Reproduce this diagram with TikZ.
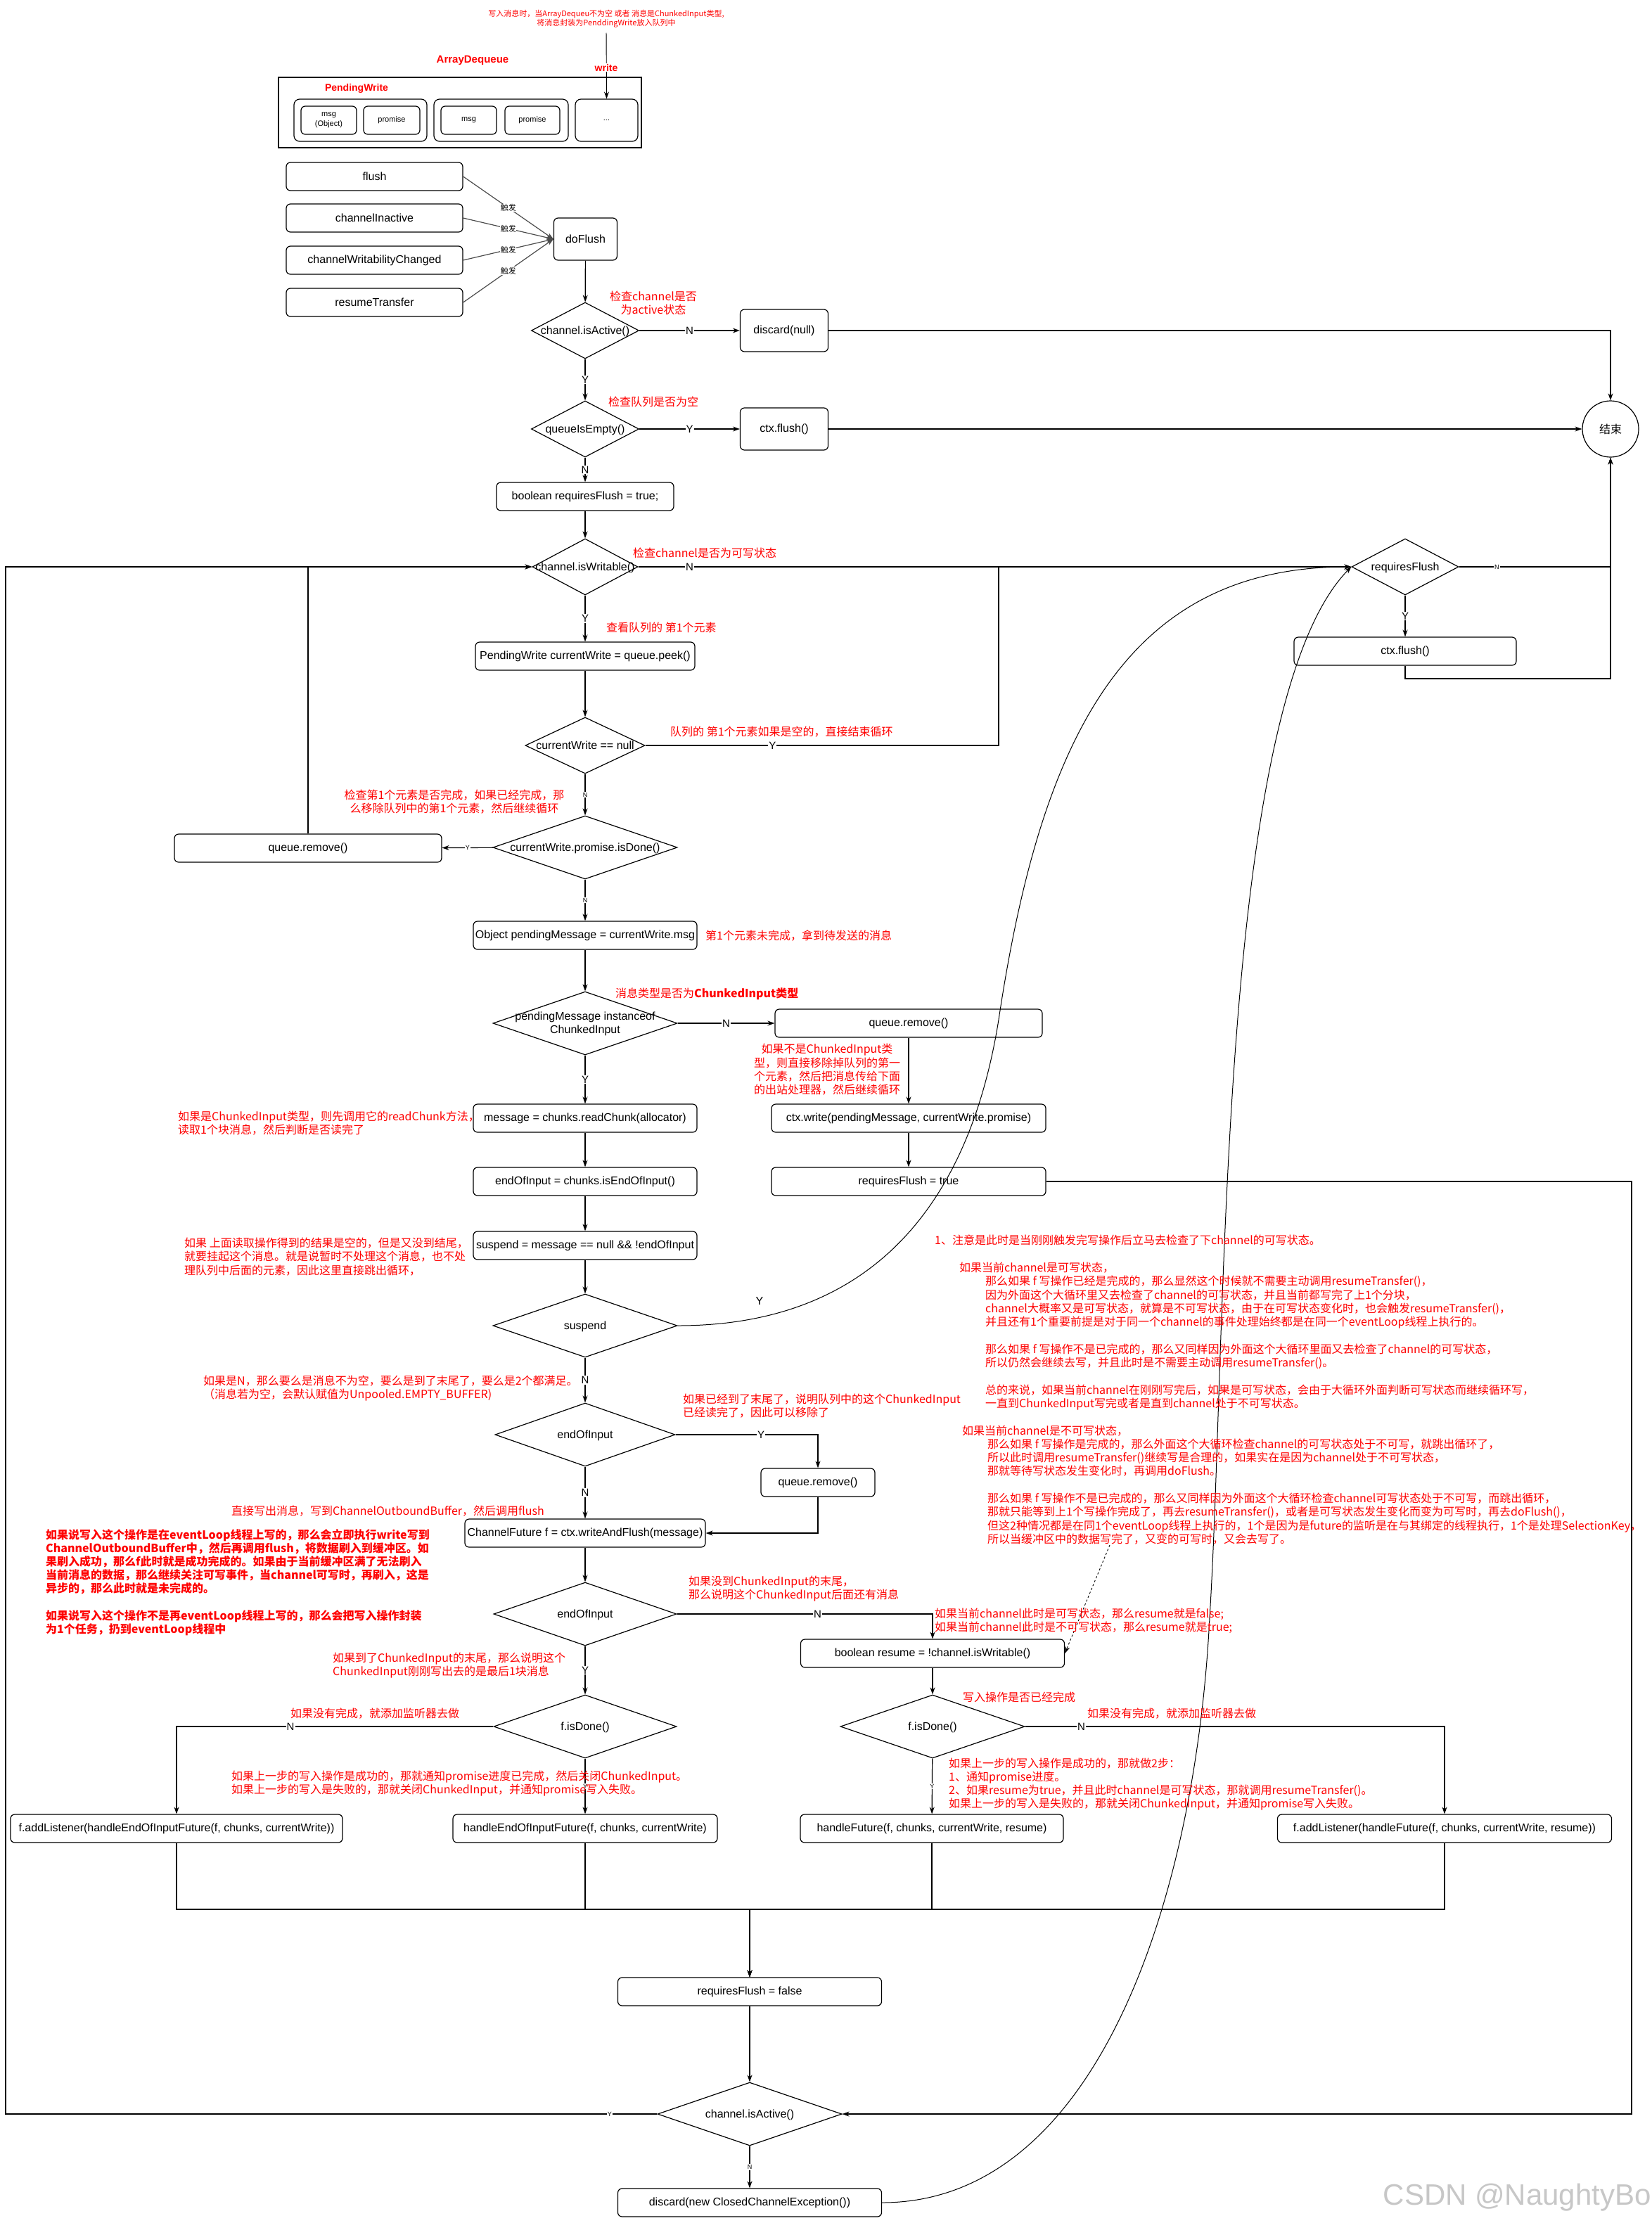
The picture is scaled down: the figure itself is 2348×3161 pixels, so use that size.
\documentclass[tikz,border=0pt]{standalone}
\usepackage{fontspec}
\setmainfont{Liberation Sans}
\newfontfamily\cjk{Noto Sans CJK SC}
\usetikzlibrary{shapes.geometric,arrows.meta}
\newcommand\dtx[1]{\makebox[0pt]{\raisebox{-0.35em}[0pt][0pt]{\begin{tabular}{@{}c@{}}#1\end{tabular}}}}
\begin{document}
\begin{tikzpicture}[x=1pt,y=-1pt,
  >={Stealth[length=10pt,width=7pt]},
  box/.style={draw, rounded corners=6pt, line width=1.2pt, minimum height=40pt, inner sep=2pt, align=center, font=\fontsize{16}{19}\selectfont},
  dia/.style={draw, diamond, line width=1.2pt, inner sep=0pt, font=\fontsize{16}{19}\selectfont},
  lbl/.style={fill=white, inner sep=1pt, font=\fontsize{15}{18}\selectfont},
  slbl/.style={fill=white, inner sep=1pt, font=\fontsize{9}{10}\selectfont},
  trig/.style={fill=white, inner sep=0.5pt, font=\cjk\fontsize{11}{12}\selectfont},
  note/.style={text=red, inner sep=0pt, align=left, font=\cjk\fontsize{16}{19.3}\selectfont},
  conn/.style={line width=1.2pt, ->},
  wire/.style={line width=1.2pt},
]
\fill[white] (0,0) rectangle (2348,3161);
\useasboundingbox (0,0) rectangle (2348,3161);

% ---------- top: ArrayDequeue ----------
\node[note, align=center, inner sep=1pt, font=\cjk\fontsize{11}{13}\selectfont] (topnote) at (862,27) {写入消息时，当ArrayDequeu不为空 或者 消息是ChunkedInput类型,\\将消息封装为PenddingWrite放入队列中};
\node[text=red, font=\bfseries\fontsize{15}{18}\selectfont] (adq) at (672,86) {ArrayDequeue};
\node[draw, line width=1.2pt, minimum width=516pt, minimum height=100pt, inner sep=0pt] (deque) at (654,160) {};
\node[text=red, font=\bfseries\fontsize{14}{17}\selectfont] (pwl) at (507,126) {PendingWrite};
\node[box, minimum width=189pt, minimum height=60pt, rounded corners=8pt] (pw1) at (512.5,171) {};
\node[box, minimum width=191pt, minimum height=60pt, rounded corners=8pt] (pw2) at (712.5,171) {};
\node[box, minimum width=89pt, minimum height=60pt, rounded corners=8pt, font=\fontsize{11}{13}\selectfont] (dots) at (862.5,171) {...};
\node[box, minimum width=79pt, font=\fontsize{11}{14}\selectfont] (msg1) at (467.5,171) {msg\\(Object)};
\node[box, minimum width=80pt, font=\fontsize{11}{14}\selectfont] (prom1) at (557,171) {promise};
\node[box, minimum width=79pt, font=\fontsize{11}{14}\selectfont] (msg2) at (666.5,171) {msg};
\node[box, minimum width=78pt, font=\fontsize{11}{14}\selectfont] (prom2) at (757,171) {promise};
\draw[conn, line width=0.9pt, shorten <=6pt] (topnote.south) -- (dots.north);
\node[text=red, fill=white, inner sep=1pt, font=\bfseries\fontsize{14}{17}\selectfont] (writelbl) at (862,96) {write};

% ---------- triggers ----------
\node[box, minimum width=251pt] (tflush) at (532.5,251) {flush};
\node[box, minimum width=251pt] (tinact) at (532.5,310) {channelInactive};
\node[box, minimum width=251pt] (twrit) at (532.5,370) {channelWritabilityChanged};
\node[box, minimum width=251pt] (tresume) at (532.5,430) {resumeTransfer};
\node[box, minimum width=90pt, minimum height=60pt] (doflush) at (832.5,340) {doFlush};
\foreach \s in {tflush,tinact,twrit,tresume}
  \draw[conn, draw=black!70] (\s.east) -- node[trig] (trg\s) {触发} (doflush.west);

% ---------- main nodes ----------
\node[dia, minimum width=153pt, minimum height=80pt] (isact) at (832,470) {\dtx{channel.isActive()}};
\node[box, minimum width=125pt, minimum height=60pt] (discnull) at (1115,470) {discard(null)};
\node[dia, minimum width=153pt, minimum height=80pt] (qempty) at (832,610) {\dtx{queueIsEmpty()}};
\node[box, minimum width=125pt, minimum height=60pt] (ctxf1) at (1115,610) {ctx.flush()};
\node[draw, circle, line width=1.2pt, minimum size=80pt, inner sep=0pt, font=\cjk\fontsize{16}{19}\selectfont] (endc) at (2290,610) {结束};
\node[box, minimum width=252pt] (rftrue0) at (832,706) {boolean requiresFlush = true;};
\node[dia, minimum width=150pt, minimum height=80pt] (iswr) at (832,806) {\dtx{channel.isWritable()}};
\node[dia, minimum width=152pt, minimum height=80pt] (rfd) at (1998,806) {\dtx{requiresFlush}};
\node[box, minimum width=316pt] (ctxf2) at (1998,926) {ctx.flush()};
\node[box, minimum width=312pt] (peek) at (832,933) {PendingWrite currentWrite = queue.peek()};
\node[dia, minimum width=170pt, minimum height=80pt] (cwnull) at (832,1060) {\dtx{currentWrite == null}};
\node[dia, minimum width=262pt, minimum height=90pt] (pdone) at (832,1205) {\dtx{currentWrite.promise.isDone()}};
\node[box, minimum width=380pt] (qrem1) at (438,1206) {queue.remove()};
\node[box, minimum width=318pt] (pmsg) at (832,1330) {Object pendingMessage = currentWrite.msg};
\node[dia, minimum width=262pt, minimum height=90pt] (inst) at (832,1455) {\dtx{pendingMessage instanceof\\ChunkedInput}};
\node[box, minimum width=380pt] (qrem2) at (1292,1455) {queue.remove()};
\node[box, minimum width=318pt] (rchunk) at (832,1590) {message = chunks.readChunk(allocator)};
\node[box, minimum width=390pt] (ctxw) at (1292,1590) {ctx.write(pendingMessage, currentWrite.promise)};
\node[box, minimum width=318pt] (eoi) at (832,1680) {endOfInput = chunks.isEndOfInput()};
\node[box, minimum width=390pt] (rftrue) at (1292,1680) {requiresFlush = true};
\node[box, minimum width=318pt] (susp) at (832,1771) {suspend = message == null \&\& !endOfInput};
\node[dia, minimum width=262pt, minimum height=90pt] (suspd) at (832,1885) {\dtx{suspend}};
\node[dia, minimum width=256pt, minimum height=90pt] (eoid1) at (832,2040) {\dtx{endOfInput}};
\node[box, minimum width=162pt] (qrem3) at (1163,2108) {queue.remove()};
\node[box, minimum width=342pt] (cfut) at (832,2180) {ChannelFuture f = ctx.writeAndFlush(message)};
\node[dia, minimum width=260pt, minimum height=90pt] (eoid2) at (832,2295) {\dtx{endOfInput}};
\node[box, minimum width=375pt] (resume) at (1326,2351) {boolean resume = !channel.isWritable()};
\node[dia, minimum width=260pt, minimum height=90pt] (fdone1) at (832,2455) {\dtx{f.isDone()}};
\node[dia, minimum width=262pt, minimum height=90pt] (fdone2) at (1326,2455) {\dtx{f.isDone()}};
\node[box, minimum width=472pt] (addl1) at (251,2600) {f.addListener(handleEndOfInputFuture(f, chunks, currentWrite))};
\node[box, minimum width=376pt] (heoi) at (832,2600) {handleEndOfInputFuture(f, chunks, currentWrite)};
\node[box, minimum width=374pt] (hfut) at (1325,2600) {handleFuture(f, chunks, currentWrite, resume)};
\node[box, minimum width=475pt] (addl2) at (2054,2600) {f.addListener(handleFuture(f, chunks, currentWrite, resume))};
\node[box, minimum width=375pt] (rffalse) at (1066,2832) {requiresFlush = false};
\node[dia, minimum width=262pt, minimum height=90pt] (isact2) at (1066,3006) {\dtx{channel.isActive()}};
\node[box, minimum width=375pt] (discx) at (1066,3132) {discard(new ClosedChannelException())};

% helper coordinates
\coordinate (jn) at (2290,965);
\coordinate (cwj1) at (1420,1060);
\coordinate (cwj2) at (1420,806);
\coordinate (mrg) at (1066,2715);
\coordinate (lft) at (8,3006);
\coordinate (rgt) at (2320,1680);
\coordinate (dashS) at (1578,2197);

% ---------- connectors ----------
\draw[conn] (doflush) -- (isact);
\draw[conn] (isact) -- node[lbl] (lN1) {N} (discnull);
\draw[conn] (isact) -- node[lbl] (lY1) {Y} (qempty);
\draw[conn] (discnull.east) -| (endc.north);
\draw[conn] (qempty) -- node[lbl] (lY2) {Y} (ctxf1);
\draw[conn] (ctxf1) -- (endc);
\draw[conn] (qempty) -- node[lbl] (lN2) {N} (rftrue0);
\draw[conn] (rftrue0) -- (iswr);
\draw[conn] (iswr) -- node[lbl, pos=0.072] (lN3) {N} (rfd);
\draw[conn] (iswr) -- node[lbl] (lY3) {Y} (peek);
\draw[conn] (rfd) -- node[lbl] (lY4) {Y} (ctxf2);
\draw[conn] (rfd.east) -- node[slbl, pos=0.25] (lN4) {N} (rfd.east -| endc.south) -- (endc.south);
\draw[conn] (ctxf2.south) |- (jn) -- (endc.south);
\draw[conn] (peek) -- (cwnull);
\draw[wire] (cwnull.east) -- node[lbl, pos=0.36] (lY5) {Y} (cwj1) -- (cwj2);
\draw[conn] (cwnull) -- node[slbl] (lN5) {N} (pdone);
\draw[conn] (pdone) -- node[slbl] (lY6) {Y} (qrem1);
\draw[conn] (qrem1.north) |- (iswr.west);
\draw[conn] (pdone) -- node[slbl] (lN6) {N} (pmsg);
\draw[conn] (pmsg) -- (inst);
\draw[conn] (inst) -- node[lbl] (lN7) {N} (qrem2);
\draw[conn] (inst) -- node[lbl] (lY7) {Y} (rchunk);
\draw[conn] (qrem2) -- (ctxw);
\draw[conn] (ctxw) -- (rftrue);
\draw[conn] (rchunk) -- (eoi);
\draw[conn] (eoi) -- (susp);
\draw[conn] (susp) -- (suspd);
\draw[conn] (suspd) -- node[lbl] (lN8) {N} (eoid1);
\draw[conn, line width=1pt] (suspd.east) .. controls (1250,1885) and (1380,1700) .. (1420,1450) .. controls (1480,1050) and (1600,806) .. (rfd.west);
\node[font=\fontsize{16}{19}\selectfont] (lY8) at (1080,1850) {Y};
\draw[conn] (eoid1.east) -| node[lbl, pos=0.3] (lY9) {Y} (qrem3.north);
\draw[conn] (eoid1) -- node[lbl] (lN9) {N} (cfut);
\draw[conn] (qrem3.south) |- (cfut.east);
\draw[conn] (cfut) -- (eoid2);
\draw[conn] (eoid2.east) -| node[lbl, pos=0.275] (lN10) {N} (resume.north);
\draw[conn] (eoid2) -- node[lbl] (lY10) {Y} (fdone1);
\draw[conn] (resume) -- (fdone2);
\draw[conn] (fdone1.west) -| node[lbl, pos=0.32] (lN11) {N} (addl1.north);
\draw[conn] (fdone1) -- node[slbl] (lY11) {Y} (heoi);
\draw[conn] (fdone2.east) -| node[lbl, pos=0.067] (lN12) {N} (addl2.north);
\draw[conn] (fdone2) -- node[slbl] (lY12) {Y} (hfut);
\foreach \b in {addl1,heoi,hfut,addl2}
  \draw[conn] (\b.south) |- (mrg) -- (rffalse.north);
\draw[conn] (rffalse) -- (isact2);
\draw[conn] (isact2) -- node[slbl] (lN13) {N} (discx);
\draw[conn] (isact2.west) -- node[slbl, pos=0.073] (lY13) {Y} (lft) |- (iswr.west);
\draw[conn] (rftrue.east) -- (rgt) |- (isact2.east);
\draw[conn, line width=1pt] (discx.east) .. controls (1560,3132) and (1700,2700) .. (1720,2300) .. controls (1745,1900) and (1730,1000) .. (rfd.west);
\draw[->, dashed, line width=0.9pt] (dashS) -- (resume.east);

% ---------- red notes ----------
\node[note, align=center] (n1) at (929,431) {检查channel是否\\为active状态};
\node[note] (n2) at (929,571) {检查队列是否为空};
\node[note, anchor=west] (n3) at (900,786) {检查channel是否为可写状态};
\node[note, anchor=west] (n4) at (862,892) {查看队列的 第1个元素};
\node[note, anchor=west] (n5) at (953,1041) {队列的 第1个元素如果是空的，直接结束循环};
\node[note, align=center] (n6) at (646,1140) {检查第1个元素是否完成，如果已经完成，那\\么移除队列中的第1个元素，然后继续循环};
\node[note, anchor=west] (n7) at (1003,1330) {第1个元素未完成，拿到待发送的消息};
\node[note, anchor=west] (n8) at (875,1413) {消息类型是否为\textbf{ChunkedInput类型}};
\node[note, align=center] (n9) at (1176,1521) {如果不是ChunkedInput类\\型，则直接移除掉队列的第一\\个元素，然后把消息传给下面\\的出站处理器，然后继续循环};
\node[note, anchor=west] (n10) at (253,1597) {如果是ChunkedInput类型，则先调用它的readChunk方法，\\读取1个块消息，然后判断是否读完了};
\node[note, anchor=west] (n11) at (262,1787) {如果 上面读取操作得到的结果是空的，但是又没到结尾，\\就要挂起这个消息。就是说暂时不处理这个消息，也不处\\理队列中后面的元素，因此这里直接跳出循环，};
\node[note, anchor=west] (n12) at (289,1974) {如果是N，那么要么是消息不为空，要么是到了末尾了，要么是2个都满足。\\（消息若为空，会默认赋值为Unpooled.EMPTY\_BUFFER)};
\node[note, anchor=west] (n13) at (971,1999) {如果已经到了末尾了，说明队列中的这个ChunkedInput\\已经读完了，因此可以移除了};
\node[note, anchor=north west] (bignote) at (1329,1756) {1、注意是此时是当刚刚触发完写操作后立马去检查了下channel的可写状态。\\
~\\
\hspace*{35pt}如果当前channel是可写状态，\\
\hspace*{72pt}那么如果 f 写操作已经是完成的，那么显然这个时候就不需要主动调用resumeTransfer()，\\
\hspace*{72pt}因为外面这个大循环里又去检查了channel的可写状态，并且当前都写完了上1个分块，\\
\hspace*{72pt}channel大概率又是可写状态，就算是不可写状态，由于在可写状态变化时，也会触发resumeTransfer()，\\
\hspace*{72pt}并且还有1个重要前提是对于同一个channel的事件处理始终都是在同一个eventLoop线程上执行的。\\
~\\
\hspace*{72pt}那么如果 f 写操作不是已完成的，那么又同样因为外面这个大循环里面又去检查了channel的可写状态，\\
\hspace*{72pt}所以仍然会继续去写，并且此时是不需要主动调用resumeTransfer()。\\
~\\
\hspace*{72pt}总的来说，如果当前channel在刚刚写完后，如果是可写状态，会由于大循环外面判断可写状态而继续循环写，\\
\hspace*{72pt}一直到ChunkedInput写完或者是直到channel处于不可写状态。\\
~\\
\hspace*{39pt}如果当前channel是不可写状态，\\
\hspace*{75pt}那么如果 f 写操作是完成的，那么外面这个大循环检查channel的可写状态处于不可写，就跳出循环了，\\
\hspace*{75pt}所以此时调用resumeTransfer()继续写是合理的，如果实在是因为channel处于不可写状态，\\
\hspace*{75pt}那就等待写状态发生变化时，再调用doFlush。\\
~\\
\hspace*{75pt}那么如果 f 写操作不是已完成的，那么又同样因为外面这个大循环检查channel可写状态处于不可写，而跳出循环，\\
\hspace*{75pt}那就只能等到上1个写操作完成了，再去resumeTransfer()，或者是可写状态发生变化而变为可写时，再去doFlush()，\\
\hspace*{75pt}但这2种情况都是在同1个eventLoop线程上执行的，1个是因为是future的监听是在与其绑定的线程执行，1个是处理SelectionKey，\\
\hspace*{75pt}所以当缓冲区中的数据写完了，又变的可写时，又会去写了。};
\node[note, anchor=west] (n15) at (329,2149) {直接写出消息，写到ChannelOutboundBuffer，然后调用flush};
\node[note, anchor=north west, font=\cjk\bfseries\fontsize{16}{19.2}\selectfont] (n16) at (65,2174) {如果说写入这个操作是在eventLoop线程上写的，那么会立即执行write写到\\ChannelOutboundBuffer中，然后再调用flush，将数据刷入到缓冲区。如\\果刷入成功，那么f此时就是成功完成的。如果由于当前缓冲区满了无法刷入\\当前消息的数据，那么继续关注可写事件，当channel可写时，再刷入，这是\\异步的，那么此时就是未完成的。\\~\\如果说写入这个操作不是再eventLoop线程上写的，那么会把写入操作封装\\为1个任务，扔到eventLoop线程中};
\node[note, anchor=west] (n17) at (979,2259) {如果没到ChunkedInput的末尾，\\那么说明这个ChunkedInput后面还有消息};
\node[note, anchor=west] (n18) at (1329,2305) {如果当前channel此时是可写状态，那么resume就是false;\\如果当前channel此时是不可写状态，那么resume就是true;};
\node[note, anchor=west] (n19) at (473,2368) {如果到了ChunkedInput的末尾，那么说明这个\\ChunkedInput刚刚写出去的是最后1块消息};
\node[note, anchor=west] (n20) at (1369,2413) {写入操作是否已经完成};
\node[note, anchor=west] (n21) at (413,2437) {如果没有完成，就添加监听器去做};
\node[note, anchor=west] (n22) at (1546,2437) {如果没有完成，就添加监听器去做};
\node[note, anchor=west] (n23) at (329,2536) {如果上一步的写入操作是成功的，那就通知promise进度已完成，然后关闭ChunkedInput。\\如果上一步的写入是失败的，那就关闭ChunkedInput，并通知promise写入失败。};
\node[note, anchor=west] (n24) at (1349,2537) {如果上一步的写入操作是成功的，那就做2步：\\1、通知promise进度。\\2、如果resume为true，并且此时channel是可写状态，那就调用resumeTransfer()。\\如果上一步的写入是失败的，那就关闭ChunkedInput，并通知promise写入失败。};

% watermark
\node[text=black!22, anchor=east, inner sep=0pt, font=\fontsize{42}{48}\selectfont] (wm) at (2348,3125) {CSDN @NaughtyBo};
\end{tikzpicture}
\end{document}
